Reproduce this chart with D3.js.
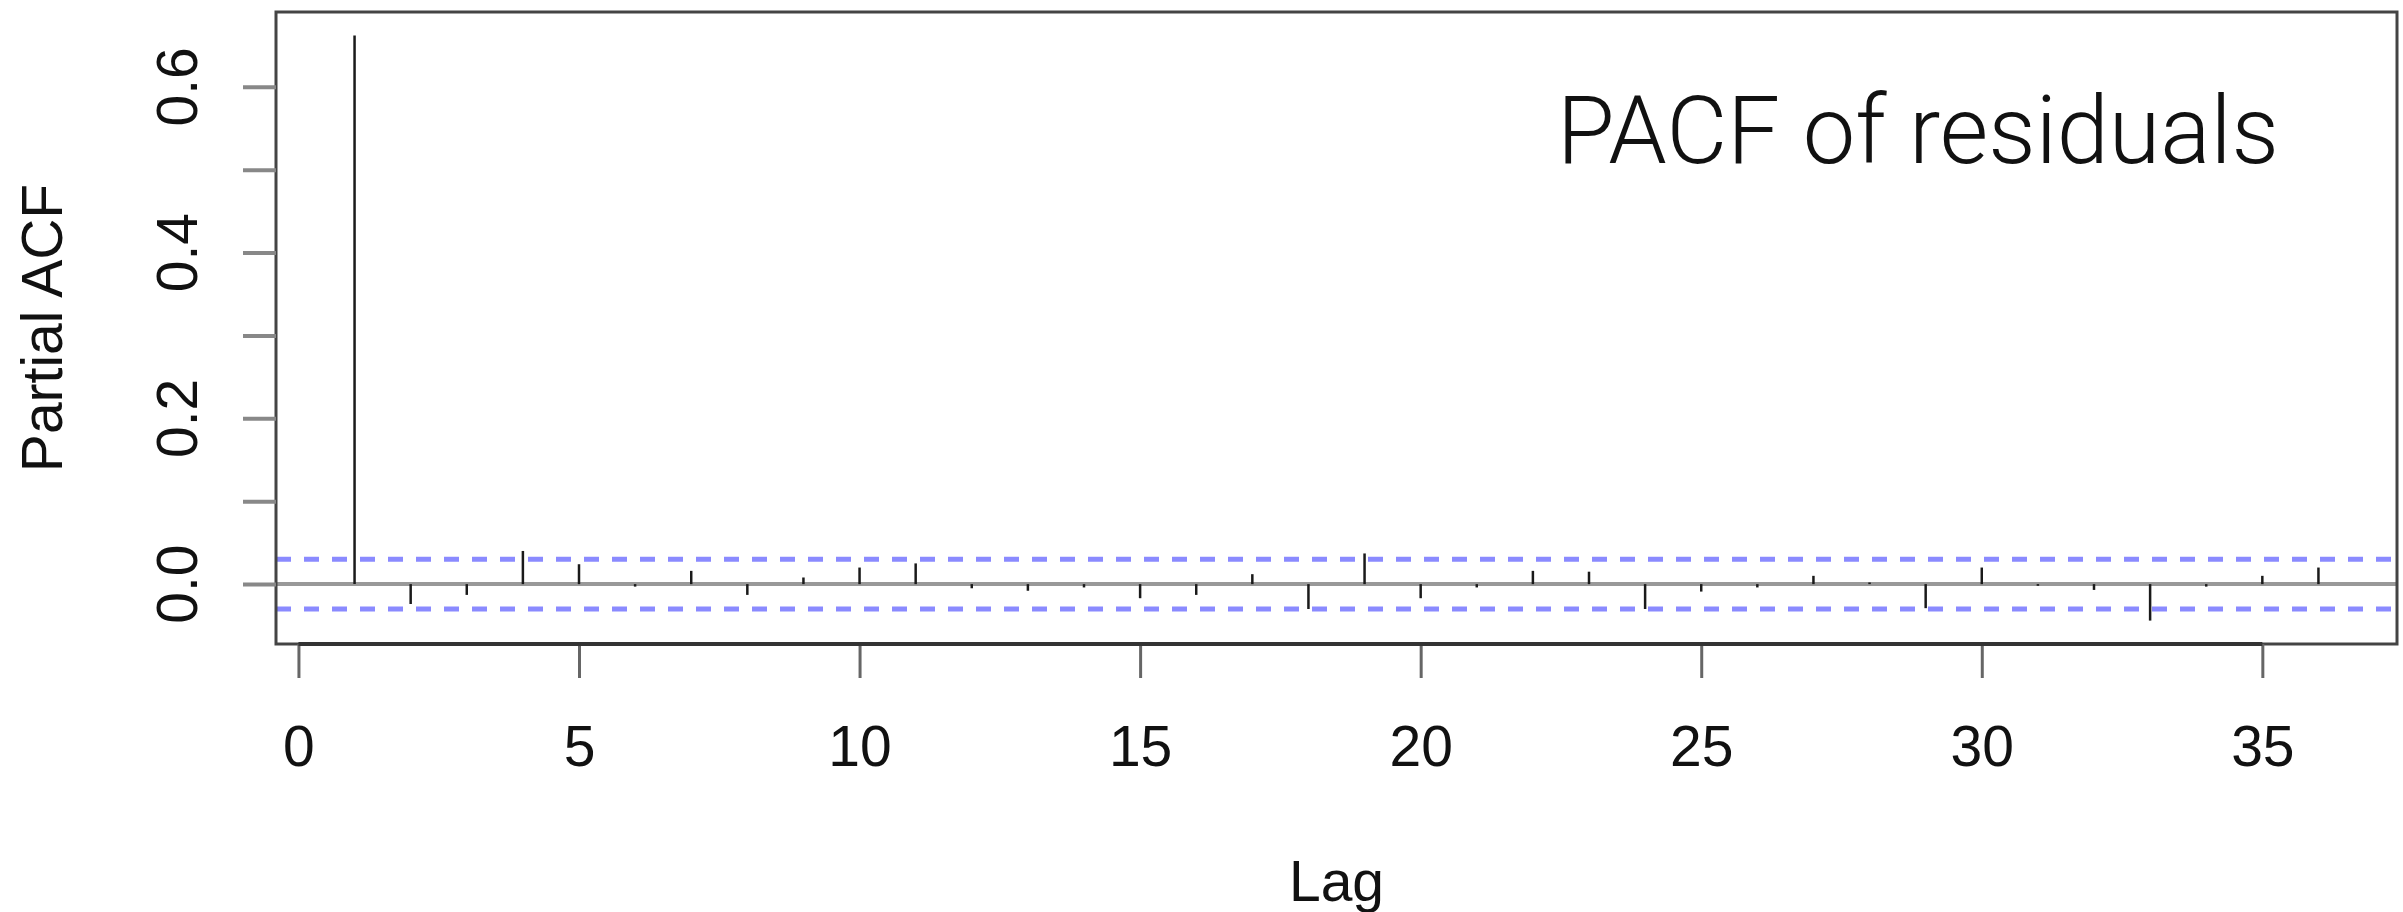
<!DOCTYPE html>
<html>
<head>
<meta charset="utf-8">
<title>PACF of residuals</title>
<script src="https://cdn.jsdelivr.net/npm/d3@7"></script>
<style>
    body { margin: 0; background: #fff; }
    text { font-family: "Liberation Sans", Arial, Helvetica, sans-serif; fill: #111; }
    .title { font-family: Roboto, "Liberation Sans", sans-serif; font-weight: 300; }
</style>
</head>
<body>
<script>
    // partial autocorrelations, lags 1..36
    var lags = d3.range(1, 37);
    var pacf = [0.662, -0.024, -0.013, 0.040, 0.024, -0.003, 0.016, -0.013, 0.008, 0.020,
                0.025, -0.005, -0.008, -0.004, -0.017, -0.013, 0.012, -0.030, 0.037, -0.017,
                -0.004, 0.016, 0.015, -0.030, -0.009, -0.004, 0.010, 0.002, -0.029, 0.020,
                -0.002, -0.007, -0.044, -0.003, 0.010, 0.020];
    var clim = 0.030;   // confidence bound
    var xTicks = [0, 5, 10, 15, 20, 25, 30, 35];
    var yTicks = [0, 0.1, 0.2, 0.3, 0.4, 0.5, 0.6];
    var yLabelTicks = [0, 0.2, 0.4, 0.6];

    var width = 2403, height = 912;
    var plotL = 276, plotR = 2397, plotT = 12, plotB = 644;

    // R style 4% padding on both axes
    function pad(ext) {
        var d = (ext[1] - ext[0]) * 0.04;
        return [ext[0] - d, ext[1] + d];
    }
    var yExt = d3.extent(pacf.concat([clim, -clim]));

    var x = d3.scaleLinear().domain(pad(d3.extent(lags))).range([plotL, plotR]);
    var y = d3.scaleLinear().domain(pad(yExt)).range([plotB, plotT]);

    var svg = d3.select("body").append("svg")
            .attr("width", width)
            .attr("height", height);

    // zero line
    svg.append("line")
            .attr("x1", plotL).attr("x2", plotR)
            .attr("y1", y(0)).attr("y2", y(0))
            .attr("stroke", "#999").attr("stroke-width", 4);

    // spikes
    svg.selectAll("line.spike")
            .data(lags)
            .enter().append("line")
            .attr("class", "spike")
            .attr("x1", function (d) { return x(d); })
            .attr("x2", function (d) { return x(d); })
            .attr("y1", y(0))
            .attr("y2", function (d, i) { return y(pacf[i]); })
            .attr("stroke", "#1a1a1a")
            .attr("stroke-width", 2.5);

    // confidence bounds
    svg.selectAll("line.clim")
            .data([clim, -clim])
            .enter().append("line")
            .attr("class", "clim")
            .attr("x1", plotL).attr("x2", plotR)
            .attr("y1", function (d) { return y(d); })
            .attr("y2", function (d) { return y(d); })
            .attr("stroke", "#8a8aff")
            .attr("stroke-width", 5)
            .attr("stroke-dasharray", "15,13");

    // box
    svg.append("rect")
            .attr("x", plotL).attr("y", plotT)
            .attr("width", plotR - plotL).attr("height", plotB - plotT)
            .attr("fill", "none")
            .attr("stroke", "#444")
            .attr("stroke-width", 3);

    // x axis
    var xAxis = svg.append("g")
            .attr("transform", "translate(0," + plotB + ")")
            .call(d3.axisBottom(x).tickValues(xTicks).tickSize(34).tickPadding(48));
    xAxis.select(".domain").remove();
    xAxis.append("line")
            .attr("x1", x(0)).attr("x2", x(35))
            .attr("stroke", "#333").attr("stroke-width", 4);
    xAxis.selectAll(".tick line").attr("stroke", "#666").attr("stroke-width", 3);
    xAxis.selectAll(".tick text")
            .attr("font-size", 57)
            .style("font-family", "Liberation Sans, Arial, sans-serif")
            .attr("fill", "#111");

    // y axis
    var yAxis = svg.append("g")
            .attr("transform", "translate(" + plotL + ",0)")
            .call(d3.axisLeft(y).tickValues(yTicks).tickSize(33).tickFormat(""));
    yAxis.select(".domain").remove();
    yAxis.selectAll(".tick line").attr("stroke", "#888").attr("stroke-width", 4);

    svg.selectAll("text.ylab")
            .data(yLabelTicks)
            .enter().append("text")
            .attr("class", "ylab")
            .attr("transform", function (d) { return "translate(197," + y(d) + ") rotate(-90)"; })
            .attr("text-anchor", "middle")
            .attr("font-size", 57)
            .text(d3.format(".1f"));

    // axis titles
    svg.append("text")
            .attr("x", (plotL + plotR) / 2)
            .attr("y", 901)
            .attr("text-anchor", "middle")
            .attr("font-size", 57)
            .text("Lag");

    svg.append("text")
            .attr("transform", "translate(62," + (plotT + plotB) / 2 + ") rotate(-90)")
            .attr("text-anchor", "middle")
            .attr("font-size", 57)
            .text("Partial ACF");

    // in-plot title, sized to the reference width
    var title = svg.append("text")
            .attr("class", "title")
            .attr("x", 1557)
            .attr("y", 163)
            .attr("font-size", 85)
            .text("PACF of residuals");
    var w = title.node().getComputedTextLength();
    title.attr("font-size", 85 * 722 / w);
</script>
</body>
</html>
